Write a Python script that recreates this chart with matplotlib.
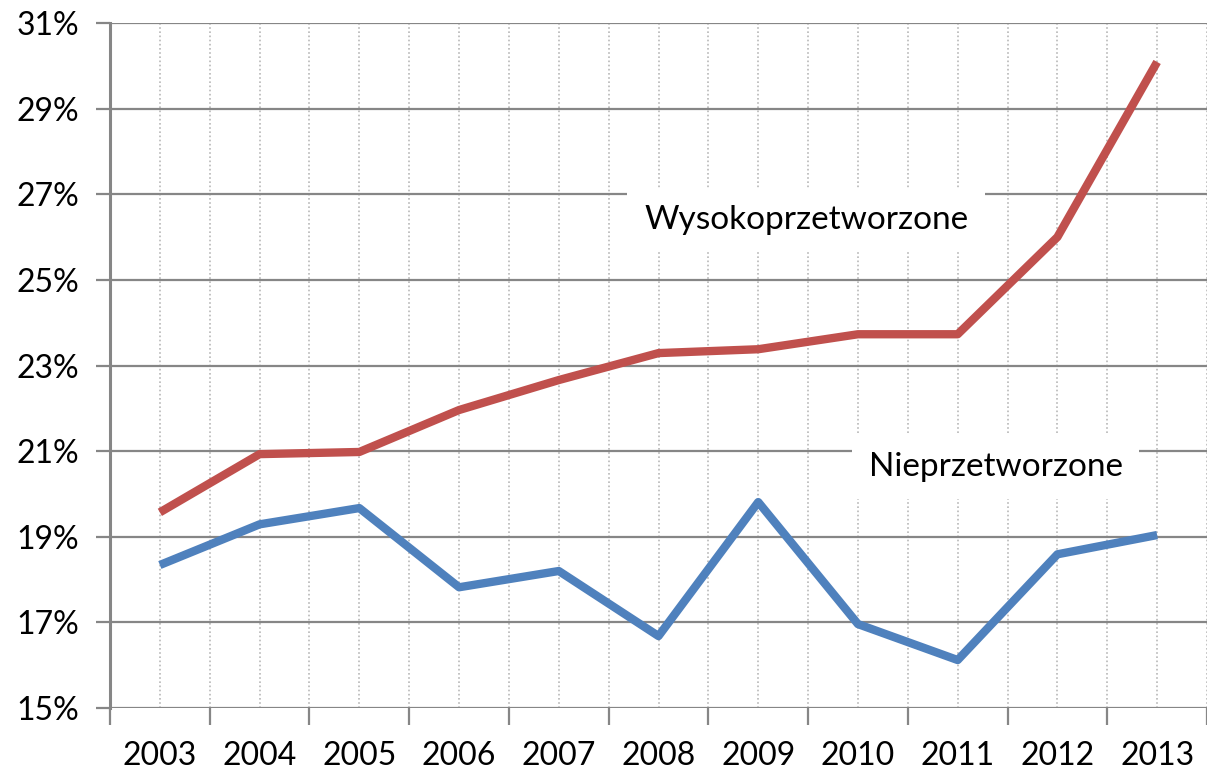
import matplotlib.pyplot as plt
import numpy as np
from matplotlib.ticker import FixedLocator, NullFormatter

years = ['2003', '2004', '2005', '2006', '2007', '2008', '2009', '2010', '2011', '2012', '2013']
wysoko = [19.57, 20.93, 20.98, 21.96, 22.66, 23.29, 23.38, 23.73, 23.73, 26.0, 30.09]
nieprz = [18.34, 19.29, 19.67, 17.82, 18.20, 16.68, 19.81, 16.96, 16.12, 18.59, 19.04]
yticks = [15, 17, 19, 21, 23, 25, 27, 29, 31]

plt.rcParams['font.family'] = ['Lato', 'DejaVu Sans']

fig = plt.figure(figsize=(12.07, 7.73), dpi=100)
ax = fig.add_axes([110 / 1207, 1 - 708 / 773, 1 - 110 / 1207, (708 - 23) / 773])

x = np.arange(len(years))
grid_col = '#868686'

# dotted verticals at category centres and boundaries
for xv in np.arange(-0.5, len(years), 0.5)[1:]:
    ax.axvline(xv, color='#b8b8b8', lw=1.2, ls=(0, (1, 1.5)), zorder=0)
for yv in yticks:
    ax.axhline(yv, color=grid_col, lw=1.6, zorder=0.5)

ax.plot(x, wysoko, color='#C0504D', lw=6, solid_capstyle='butt', zorder=3)
ax.plot(x, nieprz, color='#4F81BD', lw=6, solid_capstyle='butt', zorder=3)

ax.text(6.48, 26.4, 'Wysokoprzetworzone', fontsize=24, ha='center', va='center',
        bbox=dict(facecolor='white', edgecolor='none', pad=12), zorder=2)
ax.text(8.38, 20.63, 'Nieprzetworzone', fontsize=24, ha='center', va='center',
        bbox=dict(facecolor='white', edgecolor='none', pad=12), zorder=2)

ax.set_xlim(-0.5, len(years) - 0.5)
ax.set_ylim(15, 31)
ax.set_yticks(yticks)
ax.set_yticklabels([f'{v}%' for v in yticks], fontsize=23)
ax.xaxis.set_major_locator(FixedLocator(np.arange(-0.5, len(years), 1.0)))
ax.xaxis.set_major_formatter(NullFormatter())
ax.xaxis.set_minor_locator(FixedLocator(x))
ax.set_xticklabels(years, minor=True, fontsize=23)
ax.tick_params(axis='x', which='major', length=12, width=1.6, color=grid_col)
ax.tick_params(axis='x', which='minor', length=0, pad=24)
ax.tick_params(axis='y', length=10, width=1.6, color=grid_col, pad=12)

for s in ['top', 'right', 'bottom']:
    ax.spines[s].set_visible(False)
ax.spines['left'].set_color(grid_col)
ax.spines['left'].set_linewidth(2.2)

fig.savefig('out.png', dpi=100)
